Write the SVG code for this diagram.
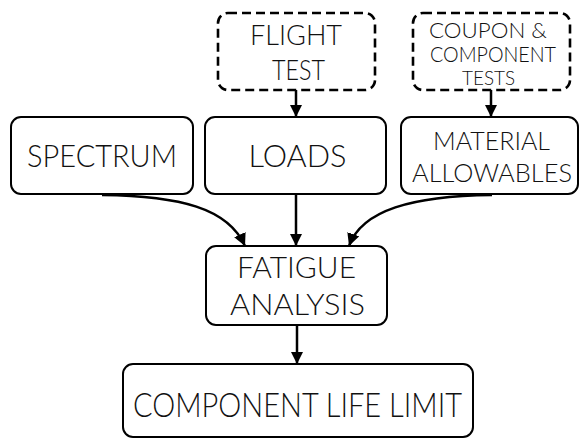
<svg xmlns="http://www.w3.org/2000/svg" width="579" height="438" viewBox="0 0 579 438">
  <style>
    .box { fill: #ffffff; stroke: #000000; stroke-width: 2; }
    .dash { fill: #ffffff; stroke: #000000; stroke-width: 2.6; stroke-dasharray: 9 5; }
    .lbl { font-family: "Lato", "DejaVu Sans", sans-serif; font-weight: 300; fill: #111111; text-anchor: middle; }
    .edge { fill: none; stroke: #000000; stroke-width: 2.5; marker-end: url(#head); }
  </style>
  <defs>
    <marker id="head" viewBox="0 0 10 10" refX="10" refY="5" markerWidth="5" markerHeight="5" orient="auto" markerUnits="strokeWidth">
      <path d="M0,0 L10,5 L0,10 Z" fill="#000000"/>
    </marker>
  </defs>

  <g id="flight-test">
    <rect class="dash" x="218" y="13" width="157" height="77" rx="10"/>
    <text class="lbl" x="296" y="45" font-size="28" textLength="92" lengthAdjust="spacingAndGlyphs">FLIGHT</text>
    <text class="lbl" x="298.5" y="80" font-size="28" textLength="53" lengthAdjust="spacingAndGlyphs">TEST</text>
  </g>
  <g id="coupon-tests">
    <rect class="dash" x="413" y="13" width="157" height="77" rx="10"/>
    <text class="lbl" x="488" y="38" font-size="21" textLength="118" lengthAdjust="spacingAndGlyphs">COUPON &amp;</text>
    <text class="lbl" x="493" y="62" font-size="21" textLength="126" lengthAdjust="spacingAndGlyphs">COMPONENT</text>
    <text class="lbl" x="488.5" y="85" font-size="20" textLength="53" lengthAdjust="spacingAndGlyphs">TESTS</text>
  </g>
  <g id="spectrum">
    <rect class="box" x="11" y="117" width="182" height="77" rx="10"/>
    <text class="lbl" x="102" y="167" font-size="31" textLength="150" lengthAdjust="spacingAndGlyphs">SPECTRUM</text>
  </g>
  <g id="loads">
    <rect class="box" x="205" y="117" width="181" height="77" rx="10"/>
    <text class="lbl" x="297.5" y="167" font-size="31" textLength="98" lengthAdjust="spacingAndGlyphs">LOADS</text>
  </g>
  <g id="material">
    <rect class="box" x="401" y="117" width="177" height="77" rx="10"/>
    <text class="lbl" x="491.5" y="150" font-size="25.5" textLength="117" lengthAdjust="spacingAndGlyphs">MATERIAL</text>
    <text class="lbl" x="492" y="182" font-size="25.5" textLength="160" lengthAdjust="spacingAndGlyphs">ALLOWABLES</text>
  </g>
  <g id="fatigue">
    <rect class="box" x="206" y="246" width="181" height="79" rx="10"/>
    <text class="lbl" x="296.5" y="278" font-size="30" textLength="119" lengthAdjust="spacingAndGlyphs">FATIGUE</text>
    <text class="lbl" x="297.5" y="315" font-size="30" textLength="135" lengthAdjust="spacingAndGlyphs">ANALYSIS</text>
  </g>
  <g id="life-limit">
    <rect class="box" x="123" y="364" width="350" height="73" rx="10"/>
    <text class="lbl" x="297.5" y="417" font-size="34" textLength="329" lengthAdjust="spacingAndGlyphs">COMPONENT LIFE LIMIT</text>
  </g>

  <g id="connectors">
    <path class="edge" d="M296,90 L296,117"/>
    <path class="edge" d="M491,90 L491,117"/>
    <path class="edge" d="M296,194 L296,246"/>
    <path class="edge" d="M297,325 L297,364"/>
    <path class="edge" d="M102,195 C180,196 228,208 245,246"/>
    <path class="edge" d="M492,195 C412,196 362,210 349,246"/>
  </g>
</svg>
